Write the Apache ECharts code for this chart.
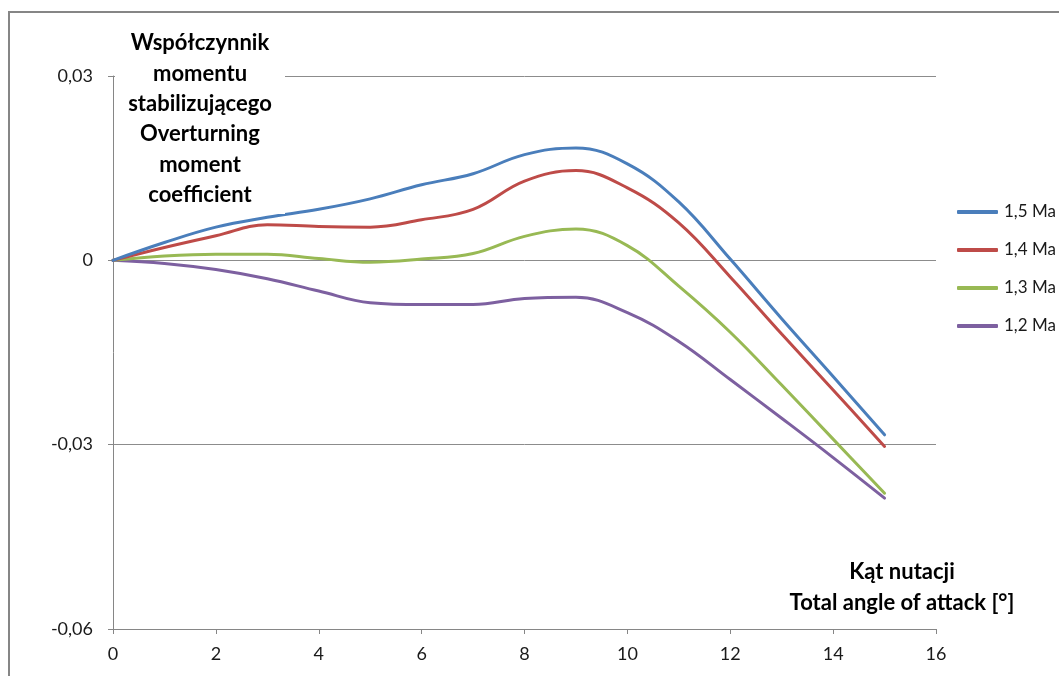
<!DOCTYPE html>
<html>
<head>
<meta charset="utf-8">
<script src="https://cdn.jsdelivr.net/npm/echarts@6/dist/echarts.min.js"></script>
<style>
  html, body { margin: 0; padding: 0; background: #ffffff; }
  #chart { width: 1059px; height: 676px; }
</style>
</head>
<body>
<div id="chart"></div>
<script>
// Total angle of attack [deg]
const angles = [0, 1, 2, 3, 4, 5, 6, 7, 8, 9, 10, 11, 12, 13, 14, 15];

// Overturning moment coefficient for each Mach number
const mach15 = [0, 0.0029, 0.0054, 0.0070, 0.0083, 0.0100, 0.0123, 0.0141, 0.0172, 0.0183, 0.0157, 0.0095, 0.0002, -0.0095, -0.0189, -0.0284];
const mach14 = [0, 0.0021, 0.0040, 0.0058, 0.0055, 0.0054, 0.0066, 0.0083, 0.0129, 0.0146, 0.0118, 0.0061, -0.0027, -0.0120, -0.0211, -0.0303];
const mach13 = [0, 0.0007, 0.0010, 0.0010, 0.0003, -0.0003, 0.0002, 0.0011, 0.0039, 0.0051, 0.0024, -0.0042, -0.0117, -0.0203, -0.0291, -0.0379];
const mach12 = [0, -0.0005, -0.0015, -0.0030, -0.0050, -0.0069, -0.0072, -0.0072, -0.0062, -0.0060, -0.0085, -0.0132, -0.0194, -0.0257, -0.0321, -0.0387];

const seriesNames = ['1,5 Ma', '1,4 Ma', '1,3 Ma', '1,2 Ma'];
const seriesValues = [mach15, mach14, mach13, mach12];
const seriesColors = ['#4a7ebb', '#be4b48', '#98b954', '#7d60a0'];

const yTitleLines = ['Współczynnik', 'momentu', 'stabilizującego', 'Overturning', 'moment', 'coefficient'];
const xTitleLines = ['Kąt nutacji', 'Total angle of attack [°]'];

const FONT = 'Lato, "Open Sans", sans-serif';
const chart = echarts.init(document.getElementById('chart'), null, { renderer: 'canvas' });

const fmt = v => {
  const n = Number(v.toFixed(2));
  return n === 0 ? '0' : String(n).replace('.', ',');
};

chart.setOption({
  animation: false,
  backgroundColor: '#ffffff',
  grid: { left: 113, right: 123, top: 76, bottom: 47, containLabel: false },
  legend: {
    orient: 'vertical',
    left: 952,
    top: 197,
    itemWidth: 41,
    itemHeight: 4,
    itemGap: 18,
    icon: 'roundRect',
    data: seriesNames,
    textStyle: { fontFamily: FONT, fontSize: 17, color: '#1a1a1a', lineHeight: 20, padding: [0, 0, 0, 1] }
  },
  xAxis: {
    type: 'value',
    min: 0,
    max: 16,
    interval: 2,
    axisLine: { show: true, onZero: false, lineStyle: { color: '#868686', width: 1 } },
    axisTick: { show: true, length: 5, lineStyle: { color: '#868686' } },
    splitLine: { show: false },
    axisLabel: { margin: 16, fontFamily: FONT, fontSize: 18, color: '#1a1a1a' }
  },
  yAxis: {
    type: 'value',
    min: -0.06,
    max: 0.03,
    interval: 0.03,
    axisLine: { show: true, onZero: false, lineStyle: { color: '#868686', width: 1 } },
    axisTick: { show: true, length: 5, lineStyle: { color: '#868686' } },
    splitLine: { show: true, lineStyle: { color: '#8c8c8c', width: 1 } },
    axisLabel: { margin: 20, fontFamily: FONT, fontSize: 18, color: '#1a1a1a', formatter: fmt }
  },
  series: seriesNames.map((name, i) => ({
    name,
    type: 'line',
    data: angles.map((a, k) => [a, seriesValues[i][k]]),
    smooth: 0.4,
    symbol: 'none',
    lineStyle: { color: seriesColors[i], width: 3, cap: 'round' },
    itemStyle: { color: seriesColors[i] },
    z: 10 - i
  })),
  graphic: [
    // chart area frame
    {
      type: 'rect', z: 50, silent: true,
      shape: { x: 9, y: 12, width: 1080, height: 700 },
      style: { fill: 'none', stroke: '#868686', lineWidth: 2 }
    },
    // white box behind the value-axis title
    {
      type: 'rect', z: 60, silent: true,
      shape: { x: 115, y: 24, width: 170, height: 190 },
      style: { fill: '#ffffff' }
    },
    {
      type: 'text', z: 70, silent: true,
      style: {
        x: 200, y: 28,
        text: yTitleLines.join('\n'),
        align: 'center', verticalAlign: 'top',
        fontFamily: FONT, fontWeight: 'bold', fontSize: 22, lineHeight: 30.4,
        fill: '#000000'
      }
    },
    {
      type: 'text', z: 70, silent: true,
      style: {
        x: 902, y: 556,
        text: xTitleLines.join('\n'),
        align: 'center', verticalAlign: 'top',
        fontFamily: FONT, fontWeight: 'bold', fontSize: 22, lineHeight: 31,
        fill: '#000000'
      }
    }
  ]
});
</script>
</body>
</html>
